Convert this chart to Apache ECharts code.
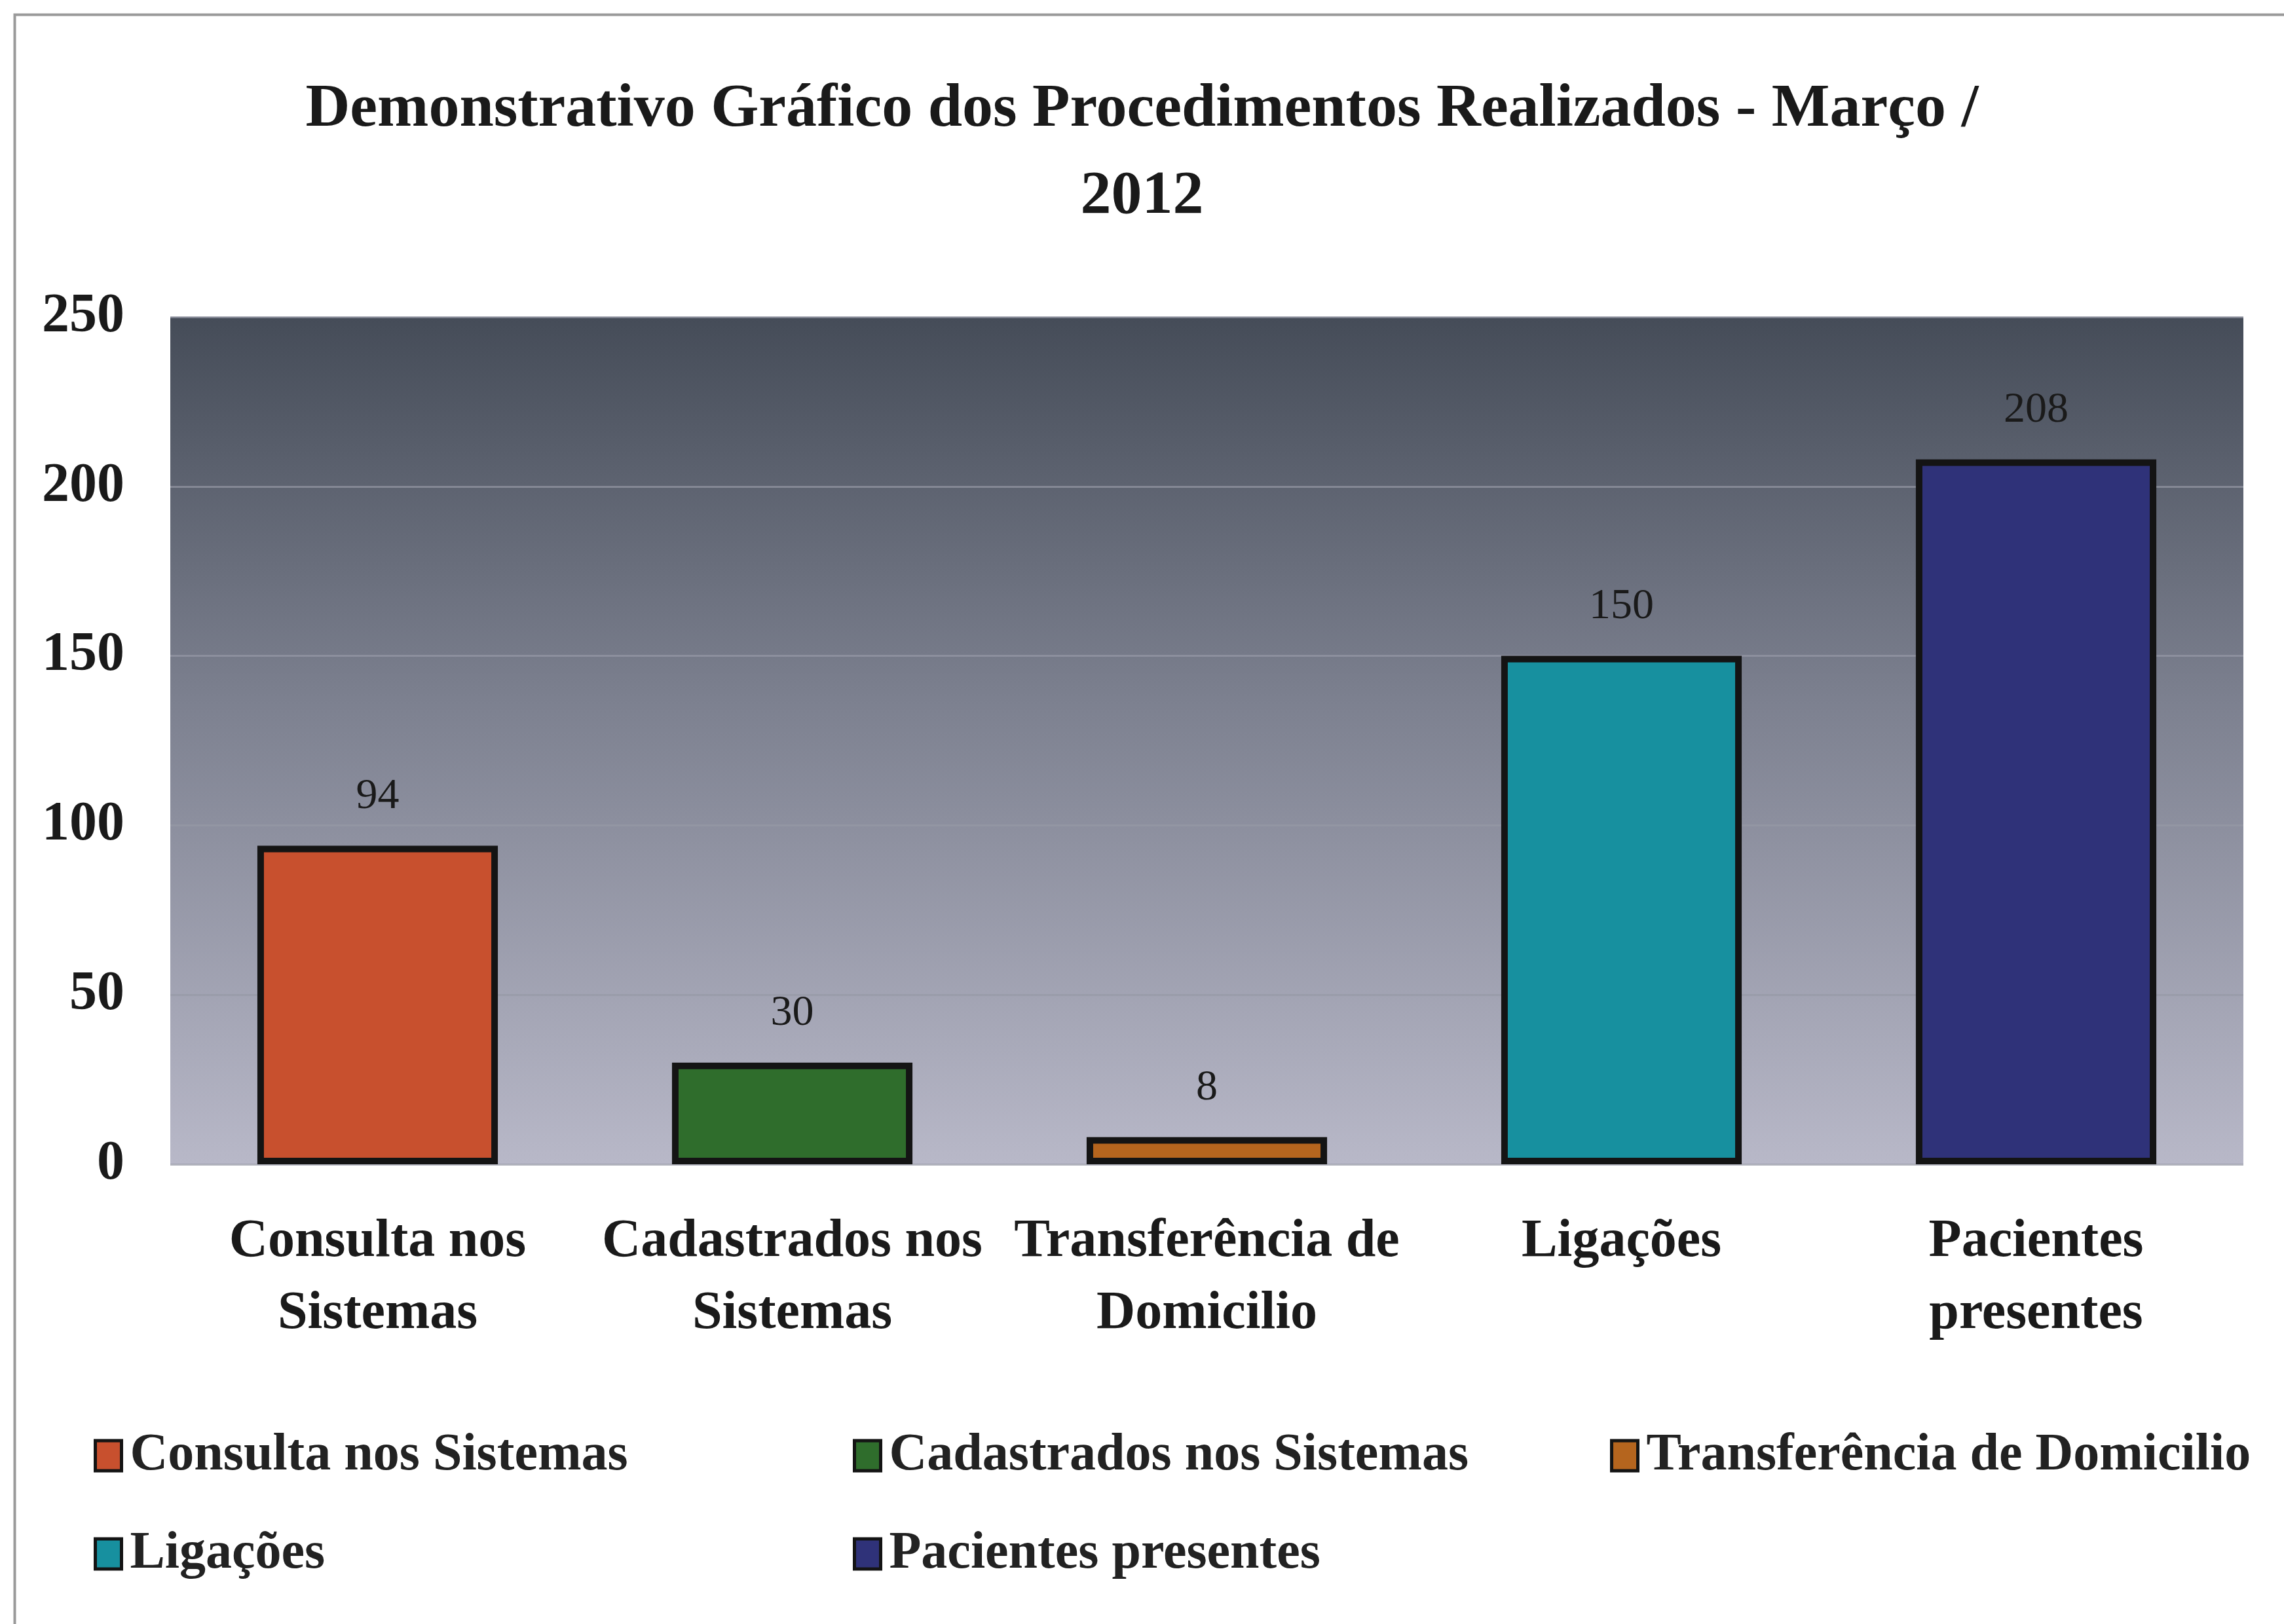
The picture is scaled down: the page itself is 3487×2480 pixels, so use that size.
<!DOCTYPE html>
<html><head><meta charset="utf-8">
<script src="https://cdn.jsdelivr.net/npm/echarts@6/dist/echarts.min.js"></script>
<style>html,body{margin:0;padding:0;background:#fff}#c{width:3487px;height:2480px}</style>
</head><body><div id="c"></div>
<script>
const categories = ['Consulta nos\nSistemas', 'Cadastrados nos\nSistemas', 'Transferência de\nDomicilio', 'Ligações', 'Pacientes\npresentes'];
const seriesNames = ['Consulta nos Sistemas', 'Cadastrados nos Sistemas', 'Transferência de Domicilio', 'Ligações', 'Pacientes presentes'];
const values = [94, 30, 8, 150, 208];
const colors = ['#c8502e', '#2f6d2c', '#b5651e', '#17909f', '#2f3279'];
const yMin = 0, yMax = 250, yStep = 50;
const titleText = 'Demonstrativo Gráfico dos Procedimentos Realizados - Março /\n2012';

const FONT = '"Liberation Serif", "Times New Roman", serif';
const legendPos = [[138, 2178], [1297, 2178], [2453, 2178], [138, 2328], [1297, 2328]];

const chart = echarts.init(document.getElementById('c'));
chart.setOption({
  backgroundColor: '#ffffff',
  animation: false,
  title: {
    text: titleText, left: 'center', top: 96,
    textStyle: { fontFamily: FONT, fontWeight: 'bold', fontSize: 94, lineHeight: 133, color: '#1a1a1a' }
  },
  graphic: [{
    type: 'rect', left: 20, top: 20, z: -1,
    shape: { width: 3500, height: 2500 },
    style: { fill: 'none', stroke: '#9a9a9a', lineWidth: 4 }
  }],
  legend: seriesNames.map((n, i) => ({
    data: [n], left: legendPos[i][0], top: legendPos[i][1],
    icon: 'rect', itemWidth: 40, itemHeight: 46, itemGap: 8,
    itemStyle: { borderColor: '#141414', borderWidth: 5 },
    textStyle: { fontFamily: FONT, fontWeight: 'bold', fontSize: 80, color: '#222', padding: [0, 0, 0, 8] }
  })),
  grid: {
    left: 260, right: 62, top: 484, bottom: 702, show: true, borderWidth: 0,
    backgroundColor: new echarts.graphic.LinearGradient(0, 0, 0, 1, [
      { offset: 0, color: '#454c58' },
      { offset: 0.45, color: '#7c808f' },
      { offset: 1, color: '#b8b8c8' }
    ])
  },
  xAxis: {
    type: 'category', data: categories,
    axisLine: { show: false }, axisTick: { show: false },
    axisLabel: { fontFamily: FONT, fontWeight: 'bold', fontSize: 82, lineHeight: 110, color: '#1a1a1a', margin: 64, interval: 0 }
  },
  yAxis: {
    type: 'value', min: yMin, max: yMax, interval: yStep,
    axisLine: { show: false }, axisTick: { show: false },
    axisLabel: { fontFamily: FONT, fontWeight: 'bold', fontSize: 84, color: '#1a1a1a', margin: 70 },
    splitLine: { show: true, lineStyle: { color: 'rgba(150,152,165,0.7)', width: 3 } }
  },
  series: seriesNames.map((n, i) => ({
    name: n, type: 'bar', stack: 'all', barWidth: '58%',
    data: values.map((v, j) => (j === i ? v : '-')),
    itemStyle: { color: colors[i], borderColor: '#141414', borderWidth: 10 },
    label: { show: true, position: 'top', distance: 42, fontFamily: FONT, fontSize: 66, color: '#1a1a1a' }
  }))
});
</script></body></html>
